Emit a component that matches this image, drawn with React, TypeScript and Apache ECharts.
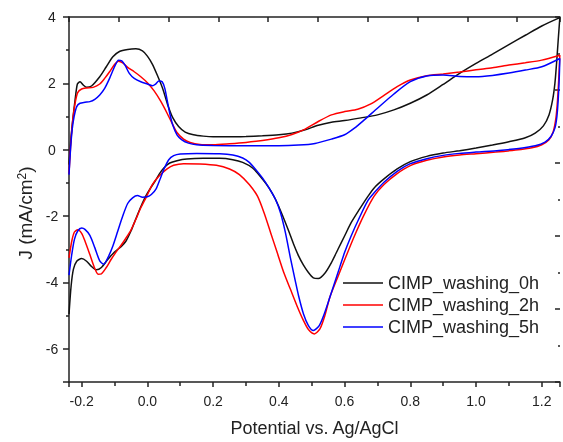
import React, { useEffect, useRef } from 'react';
import * as echarts from 'echarts';

const seriesNames = ['CIMP_washing_0h', 'CIMP_washing_2h', 'CIMP_washing_5h'];
const seriesColors = ['#111111', '#ff0000', '#0000ff'];

// Potential (V vs Ag/AgCl), current density J (mA/cm2) — scan order: anodic then cathodic
const washing0h: number[][] = [
  [-0.2385, -0.45], [-0.233, 0.3], [-0.226, 1.0], [-0.22, 1.5], [-0.213, 1.98], [-0.205, 2.05],
  [-0.195, 1.95], [-0.185, 1.88], [-0.17, 1.92], [-0.145, 2.2], [-0.125, 2.5], [-0.105, 2.8],
  [-0.085, 2.96], [-0.06, 3.02], [-0.035, 3.04], [-0.015, 2.98], [0.0, 2.82], [0.015, 2.58],
  [0.03, 2.25], [0.047, 1.83], [0.062, 1.35], [0.078, 0.95], [0.095, 0.7], [0.115, 0.53],
  [0.14, 0.45], [0.17, 0.41], [0.2, 0.39], [0.25, 0.39], [0.3, 0.4], [0.35, 0.42], [0.4, 0.45],
  [0.44, 0.5], [0.48, 0.6], [0.52, 0.74], [0.56, 0.83], [0.6, 0.88], [0.65, 0.96], [0.7, 1.05],
  [0.75, 1.2], [0.8, 1.4], [0.85, 1.65], [0.9, 1.97], [0.95, 2.3], [1.0, 2.6], [1.05, 2.88],
  [1.1, 3.17], [1.15, 3.45], [1.2, 3.73], [1.255, 3.98],
  [1.25, 3.3], [1.245, 2.6], [1.24, 2.0], [1.233, 1.5], [1.222, 1.05], [1.205, 0.72], [1.18, 0.5],
  [1.15, 0.36], [1.1, 0.24], [1.05, 0.14], [1.0, 0.05], [0.95, -0.03], [0.9, -0.1], [0.85, -0.2],
  [0.8, -0.36], [0.76, -0.58], [0.72, -0.88], [0.69, -1.15], [0.67, -1.42], [0.645, -1.8],
  [0.62, -2.2], [0.6, -2.6], [0.58, -3.0], [0.56, -3.4], [0.54, -3.72], [0.52, -3.88],
  [0.505, -3.86], [0.49, -3.7], [0.475, -3.48], [0.46, -3.2], [0.445, -2.85], [0.43, -2.45],
  [0.41, -1.95], [0.39, -1.5], [0.37, -1.15], [0.35, -0.88], [0.32, -0.55], [0.29, -0.38],
  [0.26, -0.3], [0.22, -0.26], [0.17, -0.26], [0.12, -0.28], [0.09, -0.33], [0.068, -0.4],
  [0.05, -0.55], [0.037, -0.72], [0.025, -0.92], [0.01, -1.15], [-0.005, -1.4], [-0.02, -1.72],
  [-0.035, -2.08], [-0.05, -2.45], [-0.065, -2.75], [-0.08, -2.92], [-0.1, -3.08], [-0.12, -3.3],
  [-0.14, -3.55], [-0.155, -3.62], [-0.17, -3.52], [-0.185, -3.36], [-0.2, -3.28], [-0.215, -3.36],
  [-0.225, -3.6], [-0.232, -4.1], [-0.2385, -4.96],
];

const washing2h: number[][] = [
  [-0.2385, -0.72], [-0.233, 0.2], [-0.227, 0.9], [-0.22, 1.4], [-0.212, 1.72], [-0.2, 1.83],
  [-0.185, 1.86], [-0.165, 1.88], [-0.145, 1.98], [-0.13, 2.15], [-0.115, 2.35], [-0.1, 2.57],
  [-0.088, 2.67], [-0.075, 2.62], [-0.06, 2.48], [-0.04, 2.35], [-0.02, 2.2], [0.0, 2.02],
  [0.02, 1.78], [0.04, 1.47], [0.06, 1.1], [0.075, 0.8], [0.09, 0.52], [0.11, 0.32], [0.13, 0.22],
  [0.16, 0.16], [0.2, 0.15], [0.25, 0.18], [0.3, 0.22], [0.35, 0.28], [0.4, 0.36], [0.44, 0.46],
  [0.48, 0.62], [0.52, 0.85], [0.56, 1.05], [0.6, 1.15], [0.64, 1.22], [0.68, 1.38], [0.72, 1.64],
  [0.76, 1.9], [0.8, 2.1], [0.85, 2.23], [0.9, 2.28], [0.95, 2.34], [1.0, 2.41], [1.05, 2.47],
  [1.1, 2.55], [1.15, 2.62], [1.2, 2.7], [1.255, 2.85],
  [1.252, 2.2], [1.248, 1.5], [1.243, 0.95], [1.235, 0.55], [1.222, 0.3], [1.2, 0.15], [1.17, 0.06],
  [1.12, -0.01], [1.06, -0.07], [1.0, -0.12], [0.95, -0.16], [0.9, -0.22], [0.85, -0.32],
  [0.8, -0.48], [0.76, -0.72], [0.72, -1.05], [0.69, -1.4], [0.66, -1.95], [0.63, -2.6],
  [0.603, -3.25], [0.58, -3.82], [0.555, -4.45], [0.54, -5.0], [0.525, -5.4], [0.508, -5.55],
  [0.49, -5.42], [0.475, -5.15], [0.455, -4.7], [0.435, -4.2], [0.415, -3.7], [0.395, -3.1],
  [0.375, -2.5], [0.355, -1.9], [0.335, -1.4], [0.31, -1.05], [0.28, -0.75], [0.25, -0.58],
  [0.21, -0.47], [0.16, -0.43], [0.11, -0.42], [0.08, -0.47], [0.06, -0.58], [0.035, -0.8],
  [0.015, -1.05], [-0.003, -1.42], [-0.02, -1.75], [-0.035, -2.1], [-0.05, -2.42], [-0.065, -2.66],
  [-0.08, -2.88], [-0.095, -3.08], [-0.11, -3.3], [-0.125, -3.55], [-0.14, -3.74], [-0.15, -3.75],
  [-0.16, -3.58], [-0.175, -3.16], [-0.19, -2.75], [-0.2, -2.52], [-0.212, -2.41], [-0.222, -2.48],
  [-0.23, -2.75], [-0.2385, -3.26],
];

const washing5h: number[][] = [
  [-0.2385, -0.75], [-0.234, 0.0], [-0.229, 0.6], [-0.223, 1.0], [-0.215, 1.3], [-0.205, 1.4],
  [-0.19, 1.43], [-0.175, 1.45], [-0.16, 1.52], [-0.145, 1.65], [-0.13, 1.85], [-0.115, 2.15],
  [-0.1, 2.5], [-0.088, 2.7], [-0.078, 2.68], [-0.068, 2.55], [-0.055, 2.3], [-0.04, 2.15],
  [-0.02, 2.05], [0.0, 1.98], [0.015, 1.93], [0.025, 1.98], [0.035, 2.07], [0.045, 2.05],
  [0.053, 1.85], [0.06, 1.5], [0.068, 1.1], [0.077, 0.75], [0.09, 0.45], [0.105, 0.3],
  [0.125, 0.2], [0.15, 0.15], [0.2, 0.13], [0.3, 0.12], [0.4, 0.12], [0.46, 0.14], [0.51, 0.19],
  [0.56, 0.32], [0.6, 0.45], [0.63, 0.65], [0.66, 0.9], [0.7, 1.25], [0.75, 1.68], [0.8, 2.05],
  [0.85, 2.22], [0.9, 2.25], [0.95, 2.21], [1.0, 2.2], [1.05, 2.24], [1.1, 2.31], [1.15, 2.4],
  [1.2, 2.5], [1.255, 2.75],
  [1.253, 2.1], [1.25, 1.5], [1.246, 1.0], [1.24, 0.65], [1.228, 0.4], [1.21, 0.23], [1.18, 0.12],
  [1.13, 0.04], [1.07, -0.02], [1.0, -0.07], [0.95, -0.11], [0.9, -0.17], [0.85, -0.27],
  [0.8, -0.42], [0.76, -0.65], [0.72, -0.98], [0.69, -1.3], [0.67, -1.55], [0.645, -2.05],
  [0.62, -2.6], [0.6, -3.1], [0.58, -3.7], [0.56, -4.3], [0.54, -4.9], [0.523, -5.3],
  [0.505, -5.45], [0.49, -5.3], [0.475, -4.95], [0.46, -4.4], [0.45, -3.95], [0.435, -3.25],
  [0.42, -2.5], [0.405, -1.9], [0.39, -1.5], [0.37, -1.15], [0.35, -0.85], [0.33, -0.6],
  [0.31, -0.38], [0.29, -0.25], [0.26, -0.16], [0.22, -0.12], [0.15, -0.11], [0.1, -0.13],
  [0.08, -0.18], [0.065, -0.3], [0.052, -0.55], [0.04, -0.85], [0.027, -1.17], [0.012, -1.35],
  [0.0, -1.42], [-0.015, -1.43], [-0.03, -1.38], [-0.045, -1.45], [-0.06, -1.62], [-0.075, -2.0],
  [-0.09, -2.45], [-0.105, -2.9], [-0.12, -3.25], [-0.133, -3.45], [-0.145, -3.35], [-0.16, -2.95],
  [-0.175, -2.58], [-0.19, -2.4], [-0.2, -2.36], [-0.212, -2.45], [-0.222, -2.7], [-0.23, -3.15],
  [-0.2385, -3.78],
];

const seriesData = [washing0h, washing2h, washing5h];

const X_MIN = -0.2385;
const X_MAX = 1.2555;
const Y_MIN = -7;
const Y_MAX = 4;

export default function App() {
  const ref = useRef<HTMLDivElement>(null);
  useEffect(() => {
    if (!ref.current) return;
    const chart = echarts.init(ref.current, null, { renderer: 'svg' });
    const font = '"Liberation Sans", Arial, sans-serif';
    const axisColor = '#222';
    const lineStyle = { color: axisColor, width: 1.5 };
    chart.setOption({
      animation: false,
      grid: { left: 69, right: 1, top: 17, bottom: 58, containLabel: false },
      xAxis: [
        {
          type: 'value',
          min: X_MIN,
          max: X_MAX,
          minInterval: 0.2,
          maxInterval: 0.2,
          splitNumber: 7,
          axisLine: { show: true, onZero: false, lineStyle },
          axisTick: { show: true, inside: false, length: 5, lineStyle },
          minorTick: { show: true, splitNumber: 2, length: 4, lineStyle },
          splitLine: { show: false },
          axisLabel: {
            margin: 12,
            fontSize: 14,
            fontFamily: font,
            color: axisColor,
            formatter: (v: number) => {
              const k = v / 0.2;
              return Math.abs(k - Math.round(k)) < 1e-6 ? v.toFixed(1) : '';
            },
          },
          name: 'Potential vs. Ag/AgCl',
          nameLocation: 'middle',
          nameGap: 37,
          nameTextStyle: { fontSize: 18, fontFamily: font, color: axisColor },
        },
        {
          type: 'value',
          position: 'top',
          min: 0,
          max: 9.86,
          interval: 1,
          axisLine: { show: true, onZero: false, lineStyle },
          axisTick: { show: true, inside: true, length: 5, lineStyle },
          axisLabel: { show: false },
          splitLine: { show: false },
        },
      ],
      yAxis: [
        {
          type: 'value',
          min: Y_MIN,
          max: Y_MAX,
          minInterval: 2,
          maxInterval: 2,
          axisLine: { show: true, onZero: false, lineStyle },
          axisTick: { show: true, inside: false, length: 6, lineStyle },
          minorTick: { show: true, splitNumber: 2, length: 3, lineStyle },
          splitLine: { show: false },
          axisLabel: {
            margin: 17,
            align: 'center',
            fontSize: 14,
            fontFamily: font,
            color: axisColor,
            formatter: (v: number) => (Math.abs(v / 2 - Math.round(v / 2)) < 1e-6 ? String(v) : ''),
          },
        },
        {
          type: 'value',
          position: 'right',
          min: 0,
          max: 5,
          interval: 1,
          axisLine: { show: false, onZero: false },
          axisTick: { show: true, inside: true, length: 5, lineStyle },
          minorTick: { show: true, splitNumber: 2, length: 2, lineStyle },
          axisLabel: { show: false },
          splitLine: { show: false },
        },
      ],
      legend: {
        orient: 'vertical',
        left: 343,
        top: 274,
        padding: 0,
        icon: 'rect',
        itemWidth: 40,
        itemHeight: 1.6,
        itemGap: 4,
        textStyle: { fontSize: 18, fontFamily: font, color: axisColor },
        data: seriesNames,
      },
      graphic: [
        {
          type: 'text',
          x: 25,
          y: 213,
          rotation: Math.PI / 2,
          style: {
            text: '{a|J (mA/cm}{s|2}{a|)}',
            align: 'center',
            verticalAlign: 'middle',
            rich: {
              a: { fontSize: 19, fontFamily: font, fill: axisColor },
              s: { fontSize: 12, fontFamily: font, fill: axisColor, verticalAlign: 'top' },
            },
          },
        },
      ],
      series: seriesNames.map((name, i) => ({
        name,
        type: 'line',
        xAxisIndex: 0,
        yAxisIndex: 0,
        data: seriesData[i],
        symbol: 'none',
        showSymbol: false,
        smooth: 0.25,
        clip: true,
        color: seriesColors[i],
        lineStyle: { color: seriesColors[i], width: 1.5 },
      })),
    });
    return () => chart.dispose();
  }, []);
  return <div ref={ref} style={{ position: 'fixed', left: 0, top: 0, width: 563, height: 442 }} />;
}
